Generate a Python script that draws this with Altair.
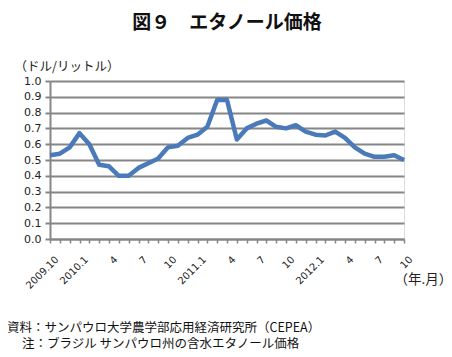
import altair as alt
import pandas as pd

months = ["2009.10", "2009.11", "2009.12",
          "2010.1", "2010.2", "2010.3", "2010.4", "2010.5", "2010.6",
          "2010.7", "2010.8", "2010.9", "2010.10", "2010.11", "2010.12",
          "2011.1", "2011.2", "2011.3", "2011.4", "2011.5", "2011.6",
          "2011.7", "2011.8", "2011.9", "2011.10", "2011.11", "2011.12",
          "2012.1", "2012.2", "2012.3", "2012.4", "2012.5", "2012.6",
          "2012.7", "2012.8", "2012.9", "2012.10"]
prices = [0.53, 0.54, 0.58, 0.67, 0.60, 0.47, 0.46, 0.40, 0.40, 0.45,
          0.48, 0.51, 0.58, 0.59, 0.64, 0.66, 0.71, 0.88, 0.88, 0.63,
          0.70, 0.73, 0.75, 0.71, 0.70, 0.72, 0.68, 0.66, 0.655, 0.68,
          0.64, 0.58, 0.54, 0.52, 0.52, 0.53, 0.50]
tick_labels = ["2009.10", "", "", "2010.1", "", "", "4", "", "", "7", "", "",
               "10", "", "", "2011.1", "", "", "4", "", "", "7", "", "",
               "10", "", "", "2012.1", "", "", "4", "", "", "7", "", "", "10"]
notes = ["資料：サンパウロ大学農学部応用経済研究所（CEPEA）",
         "注：ブラジル サンパウロ州の含水エタノール価格"]

df = pd.DataFrame({"i": list(range(len(months))), "month": months, "price": prices})
one = pd.DataFrame({"k": [0]})

label_expr = "[" + ",".join("'" + s + "'" for s in tick_labels) + "][datum.value]"

GRAY = "#868686"
FONT_JP = "Noto Sans CJK JP"
FONT_NUM = "DejaVu Sans"

line = alt.Chart(df).mark_line(color="#4a7ab8", strokeWidth=4.5, strokeJoin="round").encode(
    x=alt.X("i:Q",
            scale=alt.Scale(domain=[0, 36], nice=False, zero=False),
            axis=alt.Axis(values=list(range(37)), labelExpr=label_expr,
                          labelAngle=-45, labelAlign="right", labelBaseline="top",
                          labelPadding=11, labelOffset=3, labelFont=FONT_NUM, labelFontSize=10,
                          labelColor="#222", tickColor=GRAY, tickSize=4, tickWidth=1.5,
                          domainColor=GRAY, domainWidth=2, grid=False,
                          labelOverlap=False, labelFlush=False,
                          title="（年.月）", titleFont=FONT_JP, titleFontSize=13.5,
                          titleFontWeight="normal", titleColor="#222",
                          titleAngle=0, titleAlign="left", titleBaseline="alphabetic",
                          titleX=344, titleY=44)),
    y=alt.Y("price:Q",
            scale=alt.Scale(domain=[0, 1.0], nice=False),
            axis=alt.Axis(values=[i / 10 for i in range(11)], format=".1f",
                          labelFont=FONT_NUM, labelFontSize=11, labelColor="#222",
                          labelPadding=4, tickColor=GRAY, tickSize=5, tickWidth=2,
                          domainColor=GRAY, domainWidth=2,
                          gridColor=GRAY, gridWidth=2,
                          title="（ドル/リットル）", titleFont=FONT_JP, titleFontSize=12.5,
                          titleFontWeight="normal", titleColor="#222",
                          titleAngle=0, titleAlign="left", titleBaseline="alphabetic",
                          titleX=-36, titleY=-11)),
)

note1 = alt.Chart(one).mark_text(align="left", baseline="alphabetic", font=FONT_JP,
                                 fontSize=12.5, color="#111").encode(
    x=alt.value(-43), y=alt.value(251), text=alt.value(notes[0]))
note2 = alt.Chart(one).mark_text(align="left", baseline="alphabetic", font=FONT_JP,
                                 fontSize=12.5, color="#111").encode(
    x=alt.value(-28), y=alt.value(267), text=alt.value(notes[1]))

chart = alt.layer(line, note1, note2).properties(
    width=354, height=158,
    autosize=alt.AutoSizeParams(type="none"),
    padding={"left": 42, "top": 73, "right": 40, "bottom": 110},
    title=alt.Title("図９　エタノール価格", font=FONT_JP, fontSize=19, fontWeight="bold",
                    color="#111", anchor="middle", offset=27),
).configure_view(stroke=GRAY, strokeWidth=2).configure(background="white")

chart.save("out.html", embed_options={"renderer": "svg", "actions": False})
